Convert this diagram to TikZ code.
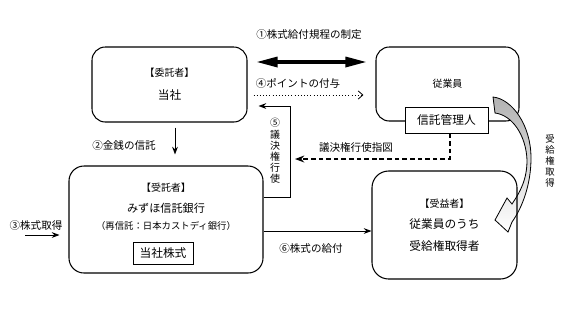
\documentclass[tikz,border=0pt]{standalone}
\usepackage{fontspec}
\setmainfont{Noto Sans CJK JP}
\usetikzlibrary{arrows.meta,positioning}
\newcommand{\fz}[1]{\fontsize{#1}{#1}\selectfont}

\begin{document}
\begin{tikzpicture}[x=0.03cm,y=-0.03cm,>=Stealth,
    pbox/.style={draw,line width=0.9pt,rounded corners=0.4cm,align=center},
    sbox/.style={draw,line width=0.8pt,fill=white,align=center},
    lbl/.style={font=\fz{9},inner sep=1pt},
    vlbl/.style={align=center,inner sep=0pt},
    arr/.style={->,line width=0.8pt},
    fatarr/.style={{Triangle[length=6.6mm,width=2.9mm]}-{Triangle[length=6.6mm,width=2.9mm]},line width=3.4pt}]
    \useasboundingbox (0,0) rectangle (572,323);

    % parties
    \node[pbox,minimum width=4.65cm,minimum height=2.25cm,font=\fontsize{10}{19.5}\selectfont] (itaku) at (169.5,84.5)
        {{\fz{8.5}【委託者】}\\\fz{10}当社};
    \node[pbox,minimum width=4.29cm,minimum height=2.22cm,font=\fz{8.5}] (jugyo) at (447.5,84) {従業員};
    \node[sbox,minimum width=2.49cm,minimum height=0.78cm,font=\fz{10}] (kanri) at (446.5,120) {信託管理人};
    \node[pbox,rounded corners=0.45cm,minimum width=5.82cm,minimum height=3.21cm] (jutaku) at (166,219.5) {};
    \node[align=center,inner sep=0pt,font=\fontsize{8}{14.5}\selectfont] (jutakutxt) at (166,207)
        {{\fz{8.5}【受託者】}\\[3.4pt]{\fz{9.5}みずほ信託銀行}\\（再信託：日本カストディ銀行）};
    \node[sbox,minimum width=1.8cm,minimum height=0.66cm,font=\fz{10}] (kabu) at (163,253) {当社株式};

    % 受給権取得
    \draw[line width=0.7pt,line join=miter,top color=black!30,bottom color=white]
        (493,97) .. controls (512,99) and (531,125) .. (531,158)
        .. controls (531,185) and (522,208) .. (512,222)
        -- (508,232) -- (495,220) -- (507,198) -- (512,204)
        .. controls (520,192) and (527,180) .. (527,160)
        .. controls (526,135) and (512,115) .. (495,113) -- cycle;
    \node[vlbl,font=\fontsize{8}{9.5}\selectfont] (jukyulbl) at (550,161) {受\\給\\権\\取\\得};

    \node[pbox,rounded corners=0.5cm,minimum width=4.35cm,minimum height=3.24cm,font=\fontsize{10}{18.3}\selectfont] (jueki) at (444.5,225)
        {{\fz{8.5}【受益者】}\\従業員のうち\\受給権取得者};

    % ① - ⑥
    \draw[fatarr,shorten <=0.24cm,shorten >=0.24cm] (itaku.east |- 0,62) -- (jugyo.west |- 0,62);
    \node[lbl] (lbl1) at (309,34) {①株式給付規程の制定};

    \draw[arr,shorten <=0.15cm,shorten >=0.33cm] (itaku.south -| 175,0) -- (jutaku.north -| 175,0);
    \node[lbl] (lbl2) at (124,145) {②金銭の信託};

    \coordinate (kabusrc) at (25,235);
    \draw[arr,shorten >=0.27cm] (kabusrc) -- (kabusrc -| jutaku.west);
    \node[lbl] (lbl3) at (36,225) {③株式取得};

    \draw[->,line width=0.7pt,dotted,>={Straight Barb[length=4pt,width=7pt]},shorten <=0.18cm,shorten >=0.36cm]
        (itaku.east |- 0,95) -- (jugyo.west |- 0,95);
    \node[lbl] (lbl4) at (298,83) {④ポイントの付与};

    \draw[arr,shorten >=0.33cm] (jutaku.east |- 0,197) -| (290,106) -- (itaku.east |- 0,106);
    \node[vlbl,font=\fontsize{8.5}{9.5}\selectfont] (lbl5) at (275,151) {⑤\\議\\決\\権\\行\\使};

    \coordinate (vote) at (290,159);
    \draw[->,line width=1.1pt,dash pattern=on 4pt off 2.5pt,shorten >=0.15cm] (kanri.south -| 450,0) |- (vote);
    \node[lbl] (lblsizu) at (356,148) {議決権行使指図};

    \draw[arr] (jutaku.east |- 0,231) -- (jueki.west |- 0,231);
    \node[lbl] (lbl6) at (311,248) {⑥株式の給付};
\end{tikzpicture}
\end{document}
